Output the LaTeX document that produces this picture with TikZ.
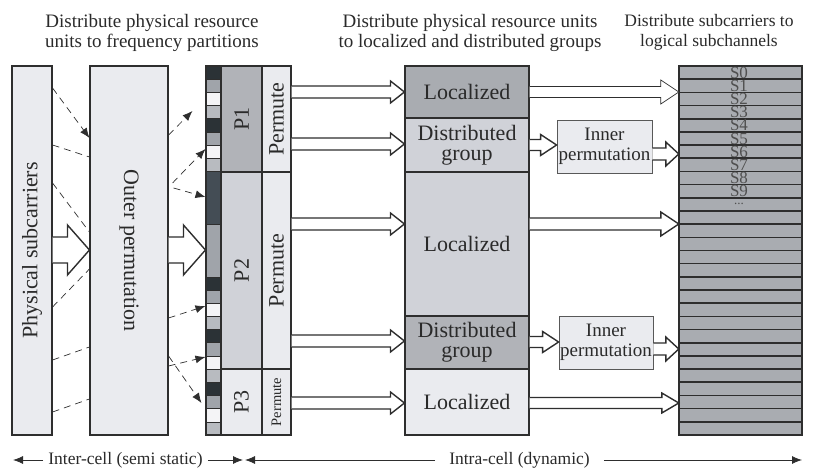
\documentclass[tikz,border=0pt]{standalone}
\usepackage{fontspec}
\setmainfont{Liberation Serif}
\usetikzlibrary{calc,arrows.meta}
\definecolor{edge}{HTML}{2E2E2E}
\definecolor{txt}{HTML}{2A2A2A}
\definecolor{lightf}{HTML}{EAEBEF}
\definecolor{midf}{HTML}{D0D2D8}
\definecolor{darkf}{HTML}{B1B3B8}
\definecolor{locf}{HTML}{A9ACB1}
\definecolor{gridf}{HTML}{A9ACB1}
\definecolor{sd}{HTML}{2B3236}
\definecolor{sg}{HTML}{A0A4AA}
\definecolor{sw}{HTML}{F4F4F6}
\definecolor{sl}{HTML}{B8BBC0}
\definecolor{ss}{HTML}{444D55}
\definecolor{stxt}{HTML}{505050}
\newcommand\FontBig{\fontsize{22pt}{20pt}\selectfont}
\newcommand\FontTitle{\fontsize{17.5pt}{20pt}\selectfont}
\newcommand\FontTitleB{\fontsize{19pt}{20pt}\selectfont}
\newcommand\FontInner{\fontsize{19pt}{20pt}\selectfont}
\newcommand\FontSmall{\fontsize{14.5pt}{15pt}\selectfont}
\newcommand\FontS{\fontsize{17pt}{17pt}\selectfont}
\newcommand\blockarr[6][]{%
  \filldraw[barrow,#1] ($(#2)+(0,-#4)$) -- ($(#3)+(-#6,-#4)$) -- ($(#3)+(-#6,-#5)$) -- (#3) -- ($(#3)+(-#6,#5)$) -- ($(#3)+(-#6,#4)$) -- ($(#2)+(0,#4)$);}
\begin{document}
\begin{tikzpicture}[x=1pt,y=-1pt,
  bx/.style={draw=edge,line width=1.1pt,inner sep=0pt,text=txt,font=\FontBig},
  barrow/.style={draw=edge,fill=white,line width=1.4pt,line join=miter},
  dsh/.style={draw=edge,line width=0.7pt,dash pattern=on 7pt off 5pt},
  dtip/.style={-{Latex[length=10pt,width=8pt]}},
  lbl/.style={text=txt,inner sep=0pt},
  dimline/.style={draw=edge,line width=0.8pt,-{Latex[length=10pt,width=8pt]}}]
\useasboundingbox (0,0) rectangle (836,470);

% titles
\node[lbl,font=\FontTitleB,align=center,anchor=north] (t1) at (152,14) {Distribute physical resource\\units to frequency partitions};
\node[lbl,font=\FontTitleB,align=center,anchor=north] (t2) at (470,14) {Distribute physical resource units\\to localized and distributed groups};
\node[lbl,font=\FontTitle,align=center,anchor=north] (t3) at (709,14) {Distribute subcarriers to\\logical subchannels};

% left boxes
\node[bx,fill=lightf,minimum width=40pt,minimum height=369pt] (phys) at (32,250.5) {};
\node[lbl,rotate=90,font=\FontBig] (physl) at (phys.center) {Physical subcarriers};
\node[bx,fill=lightf,minimum width=78pt,minimum height=369pt] (outer) at (129,250.5) {};
\node[lbl,rotate=-90,font=\FontBig] (outerl) at (outer.center) {Outer permutation};

% strip cells
\foreach \i/\c in {0/sd,1/sg,2/sw,3/sl,4/sd,5/sg,6/sw,7/sl,16/sd,17/sg,18/sw,19/sl,20/sd,21/sg,22/sw,23/sl,24/sd,25/sg,26/sw,27/sl}
  \filldraw[fill=\c,draw=edge,line width=0.6pt] (206,{66+\i*13.17857}) rectangle (221,{66+(\i+1)*13.17857});
\filldraw[fill=ss,draw=edge,line width=0.6pt] (206,{66+8*13.17857}) rectangle (221,{66+12*13.17857});
\filldraw[fill=sg,draw=edge,line width=0.6pt] (206,{66+12*13.17857}) rectangle (221,{66+16*13.17857});
\node[draw=edge,line width=1.1pt,inner sep=0pt,minimum width=15pt,minimum height=369pt] (strip) at (213.5,250.5) {};

% partitions
\node[bx,fill=darkf,minimum width=41pt,minimum height=106pt] (p1) at (241.5,119) {};
\node[bx,fill=midf,minimum width=41pt,minimum height=197pt] (p2) at (241.5,270.5) {};
\node[bx,fill=lightf,minimum width=41pt,minimum height=66pt] (p3) at (241.5,402) {};
\node[lbl,rotate=90,font=\FontBig] (p1l) at (p1.center) {P1};
\node[lbl,rotate=90,font=\FontBig] (p2l) at (p2.center) {P2};
\node[lbl,rotate=90,font=\FontBig] (p3l) at (p3.center) {P3};
\node[bx,fill=lightf,minimum width=29pt,minimum height=106pt] (perm1) at (276.5,119) {};
\node[bx,fill=lightf,minimum width=29pt,minimum height=197pt] (perm2) at (276.5,270.5) {};
\node[bx,fill=lightf,minimum width=29pt,minimum height=66pt] (perm3) at (276.5,402) {};
\node[lbl,rotate=90,font=\FontBig] (perm1l) at (perm1.center) {Permute};
\node[lbl,rotate=90,font=\FontBig] (perm2l) at (perm2.center) {Permute};
\node[lbl,rotate=90,font=\FontSmall] (perm3l) at (perm3.center) {Permute};

% localized / distributed
\node[bx,fill=locf,minimum width=124pt,minimum height=52pt] (loc1) at (467,92) {Localized};
\node[bx,fill=midf,minimum width=124pt,minimum height=54pt,align=center] (dist1) at (467,145) {Distributed\\group};
\node[bx,fill=midf,minimum width=124pt,minimum height=144pt] (loc2) at (467,244) {Localized};
\node[bx,fill=darkf,minimum width=124pt,minimum height=53pt,align=center] (dist2) at (467,342.5) {Distributed\\group};
\node[bx,fill=lightf,minimum width=124pt,minimum height=66pt] (loc3) at (467,402) {Localized};

% inner permutation
\node[bx,draw=edge!80,line width=0.8pt,fill=lightf,minimum width=95pt,minimum height=53pt,align=center,font=\FontInner] (inner1) at (604.5,146.5) {Inner\\permutation};
\node[bx,draw=edge!80,line width=0.8pt,fill=lightf,minimum width=94pt,minimum height=53pt,align=center,font=\FontInner] (inner2) at (606,342.5) {Inner\\permutation};

% subchannel grid
\node[fill=gridf,inner sep=0pt,minimum width=123pt,minimum height=369pt] (grid) at (740.5,250.5) {};
\foreach \k [evaluate=\k as \yy using 66+\k*13.17857] in {1,...,27}
  \draw[edge,line width=1.6pt] (grid.west |- 0,\yy) -- (grid.east |- 0,\yy);
\draw[edge,line width=1.6pt] (grid.north west) rectangle (grid.south east);
\foreach \k [evaluate=\k as \yy using 66+(\k+0.5)*13.17857] in {0,...,9}
  \node[font=\FontS,text=stxt,inner sep=0pt] (s\k) at (739,\yy) {S\k};
\node[font=\fontsize{13pt}{13pt}\selectfont,text=stxt,inner sep=0pt] (sdots) at (739,{66+10.5*13.17857}) {...};

% block arrows
\blockarr{phys.east |- 0,250}{outer.west |- 0,250}{13}{25}{22}
\blockarr{outer.east |- 0,250}{strip.west |- 0,250}{13}{25}{22}
\blockarr{perm1.east |- 0,92}{loc1.west |- 0,92}{6}{11}{14}
\blockarr{perm1.east |- 0,144}{dist1.west |- 0,144}{6}{11}{14}
\blockarr{perm2.east |- 0,224}{loc2.west |- 0,224}{6}{11}{14}
\blockarr{perm2.east |- 0,341}{dist2.west |- 0,341}{6}{11}{14}
\blockarr{perm3.east |- 0,403}{loc3.west |- 0,403}{6}{11}{14}
\blockarr[line width=0.7pt]{loc1.east |- 0,92}{grid.west |- 0,92}{5.5}{12}{18}
\blockarr{dist1.east |- 0,145}{inner1.west |- 0,145}{5.5}{10.5}{16}
\blockarr{inner1.east |- 0,154}{grid.west |- 0,154}{6}{12}{13}
\blockarr{loc2.east |- 0,224}{grid.west |- 0,224}{6}{12}{18}
\blockarr{dist2.east |- 0,342}{inner2.west |- 0,342}{5.5}{10.5}{16}
\blockarr{inner2.east |- 0,349}{grid.west |- 0,349}{6}{12}{13}
\blockarr{loc3.east |- 0,403}{grid.west |- 0,403}{5.5}{10}{17}

% dashed connectors: physical -> outer
\draw[dsh,dtip] (phys.east |- 0,88) -- (outer.west |- 0,138);
\draw[dsh] (phys.east |- 0,145) -- (outer.west |- 0,157);
\draw[dsh] (phys.east |- 0,183) -- (outer.west |- 0,232);
\draw[dsh] (phys.east |- 0,307) -- (outer.west |- 0,269);
\draw[dsh] (phys.east |- 0,360) -- (outer.west |- 0,347);
\draw[dsh] (phys.east |- 0,412) -- (outer.west |- 0,399);

% dashed connectors: outer -> strip
\draw[dsh,dtip] (outer.east |- 0,135) -- ($(strip.west |- 0,111)+(-13,0)$);
\draw[dsh,dtip] ($(outer.east |- 0,183)+(4,0)$) -- (strip.west |- 0,149);
\draw[dsh,dtip] ($(outer.east |- 0,188)+(5,0)$) -- (strip.west |- 0,197);
\draw[dsh,dtip] (outer.east |- 0,318) -- (strip.west |- 0,306);
\draw[dsh,dtip] (outer.east |- 0,366) -- (strip.west |- 0,357);
\draw[dsh,dtip] (outer.east |- 0,356) -- ($(strip.west |- 0,403)+(-4,0)$);

% bottom dimension lines
\coordinate (dl) at (13,460);
\coordinate (dm1) at (243,460);
\coordinate (dm2) at (245,460);
\coordinate (dr) at (802,460);
\node[lbl,font=\FontTitle,fill=white,inner xsep=5pt] (inter) at (125.5,460) {Inter-cell (semi static)};
\node[lbl,font=\FontTitle,fill=white,inner xsep=14pt] (intra) at (519.5,460) {Intra-cell (dynamic)};
\draw[dimline] (inter) -- (dl);
\draw[dimline] (inter) -- (dm1);
\draw[dimline] (intra) -- (dm2);
\draw[dimline] (intra) -- (dr);
\end{tikzpicture}
\end{document}
